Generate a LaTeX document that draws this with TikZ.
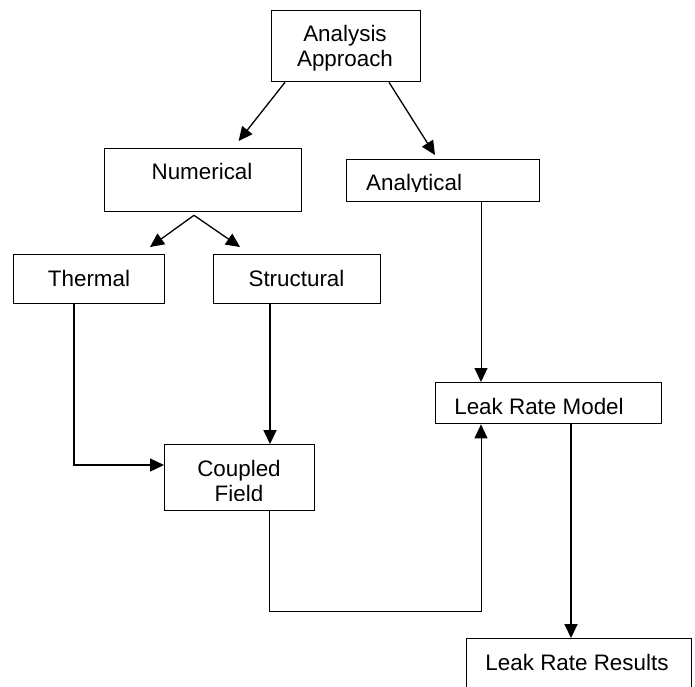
\documentclass[tikz,border=0pt]{standalone}
\usepackage{fontspec}
\setmainfont{Liberation Sans}
\usetikzlibrary{arrows.meta,calc}
\begin{document}
\begin{tikzpicture}[x=1pt,y=-1pt,
  box/.style={draw,line width=1.3pt,inner sep=0pt,anchor=north west},
  txt/.style={font=\fontsize{22.4}{25}\selectfont,inner sep=0pt,anchor=base},
  thinline/.style={line width=1pt},
  medline/.style={line width=1.3pt},
  thickline/.style={line width=1.8pt},
  tip/.style={-{Triangle[length=14pt,width=13pt]}}]
\clip (0,0) rectangle (695,686);
\fill[white] (0,0) rectangle (695,686);

\node[box,minimum width=149pt,minimum height=71pt] (ap) at (271,10) {};
\node[box,minimum width=197pt,minimum height=63pt] (nu) at (104,148) {};
\node[box,minimum width=193pt,minimum height=42pt] (an) at (346,159) {};
\node[box,minimum width=151pt,minimum height=49pt] (th) at (13,254) {};
\node[box,minimum width=167pt,minimum height=49pt] (st) at (213,254) {};
\node[box,minimum width=150pt,minimum height=66pt] (cf) at (164,444) {};
\node[box,minimum width=226pt,minimum height=41pt] (lm) at (435,382) {};
\node[box,minimum width=225pt,minimum height=70pt] (lr) at (466,638) {};

\node[txt] (t1) at (345,41) {Analysis};
\node[txt] (t2) at (345,66) {Approach};
\node[txt] (t3) at (202,179) {Numerical};
\begin{scope}
  \clip (346,159) rectangle (539,191);
  \node[txt,anchor=base west] (t4) at (366,190) {Analytical};
\end{scope}
\node[txt] (t5) at (89,286) {Thermal};
\node[txt] (t6) at (296.5,286) {Structural};
\node[txt] (t7) at (239,476) {Coupled};
\begin{scope}
  \clip (164,444) rectangle (314,500);
  \node[txt] (t8) at (239,501) {Field};
\end{scope}
\node[txt] (t9) at (539,414) {Leak Rate Model};
\node[txt] (t10) at (577,670) {Leak Rate Results};

\draw[medline,tip] ($(ap.south west)+(14,0)$) -- ($(nu.north)+(35.5,-7)$);
\draw[medline,tip] ($(ap.south west)+(118,0)$) -- ($(an.north west)+(89,-4)$);
\draw[medline,tip] ($(nu.south west)+(90,3)$) -- ($(th.north west)+(137,-7)$);
\draw[medline,tip] ($(nu.south west)+(90,3)$) -- ($(st.north west)+(27,-7)$);
\draw[medline,tip] ($(th.south west)+(61,0)$) |- ($(cf.north west)+(0,21)$);
\draw[thickline,tip] ($(st.south west)+(57,0)$) -- ($(cf.north west)+(106,0)$);
\draw[thinline,tip] ($(cf.south west)+(105,0)$) -- ++(0,100) -| ($(lm.south west)+(46,0)$);
\draw[thinline,tip] ($(an.south west)+(135,0)$) -- ($(lm.north west)+(46,0)$);
\draw[thickline,tip] ($(lm.south west)+(136,0)$) -- ($(lr.north west)+(105,0)$);
\end{tikzpicture}
\end{document}
